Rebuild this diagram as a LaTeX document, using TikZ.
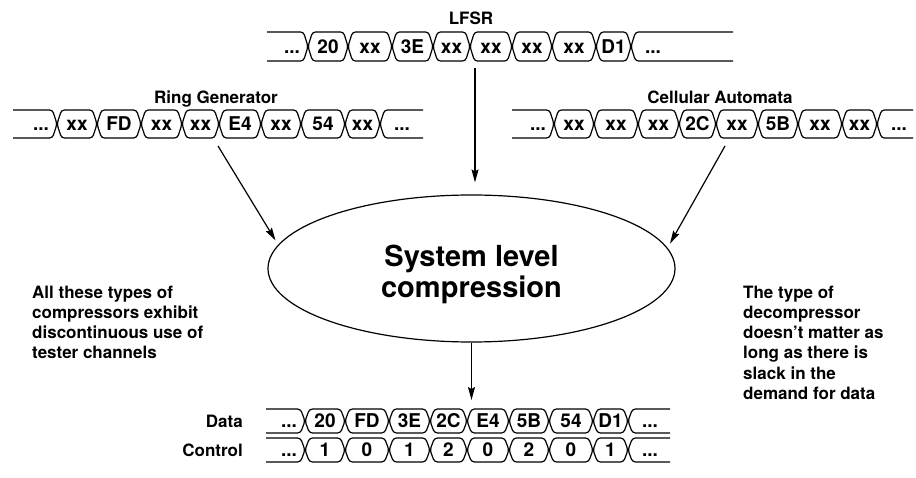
\documentclass[tikz,border=0pt]{standalone}
\usepackage{fontspec}
\setmainfont{TeX Gyre Heros}
\usetikzlibrary{arrows.meta, positioning, shapes.geometric}

\newcommand{\notefont}{\fontsize{17}{20.3}\selectfont\bfseries}
\newcommand{\cellfont}{\fontsize{19}{21}\selectfont\bfseries}
\newcommand{\bigfont}{\fontsize{29}{31}\selectfont\bfseries}

% transitions shared by all the buses (each bus is shifted)
\def\tgrid{{305,345,389,430,467,509,549,593,628}}
\def\bw{4.5}

\tikzset{
  bus/.style={line width=1.2pt, rounded corners=3pt},
  cell/.style={font=\cellfont, inner sep=0pt, anchor=base},
  title/.style={font=\notefont, inner sep=0pt},
  note/.style={font=\notefont, align=left, anchor=north west, inner sep=0pt},
  flow/.style={-{Stealth[length=13pt, width=7pt, inset=2pt]}, line width=1.2pt},
}

% #1 name, #2 top, #3 bottom, #4 left end, #5 right end, #6 labels of the eight cells
\newcommand{\drawbus}[6]{%
  \pgfmathsetmacro{\bmid}{(#2+#3)/2}
  \pgfmathsetmacro{\tbase}{\bmid+6.8}
  \draw[bus] (#4,#2) -- (305-\bw,#2) -- (305,\bmid) -- (305-\bw,#3) -- (#4,#3);
  \node[cell] (#1-0) at (289,\tbase) {...};
  \foreach \txt [count=\i] in {#6}{
    \pgfmathsetmacro{\cl}{\tgrid[\i-1]}
    \pgfmathsetmacro{\cr}{\tgrid[\i]}
    \draw[bus] (\cl+\bw,#2) -- (\cr-\bw,#2) -- (\cr,\bmid) -- (\cr-\bw,#3)
      -- (\cl+\bw,#3) -- (\cl,\bmid) -- cycle;
    \node[cell] (#1-\i) at ({(\cl+\cr)/2},\tbase) {\txt};
  }
  \draw[bus] (#5,#2) -- (628+\bw,#2) -- (628,\bmid) -- (628+\bw,#3) -- (#5,#3);
  \node[cell] (#1-9) at (650,\tbase) {...};
}

\begin{document}
\begin{tikzpicture}[x=1pt, y=-1pt]
  \useasboundingbox (0,0) rectangle (916,478);

  % Source buses
  \node[title, anchor=base] (lfsr) at (471,25) {LFSR};
  \begin{scope}[shift={(3,0)}]
    \drawbus{lfsr}{32}{61}{264}{730}{20,xx,3E,xx,xx,xx,xx,D1}
  \end{scope}
  \node[title, anchor=base] (ring) at (216,104) {Ring Generator};
  \begin{scope}[shift={(-248,0)}]
    \drawbus{ring}{110}{138}{261}{671}{xx,FD,xx,xx,E4,xx,54,xx}
  \end{scope}
  \node[title, anchor=base] (ca) at (720,104) {Cellular Automata};
  \begin{scope}[shift={(249,0)}]
    \drawbus{ca}{110}{138}{263}{664}{xx,xx,xx,2C,xx,5B,xx,xx}
  \end{scope}

  % Compression
  \node[draw, ellipse, line width=1.2pt, minimum width=407pt, minimum height=147pt,
    inner sep=0pt] (sys) at (471.5,268.5) {};
  \node[font=\bigfont, align=center, inner sep=0pt] (systext) at (471.5,274)
    {System level\\compression};

  % Output buses
  \node[title, anchor=base east] (data) at (243,427) {Data};
  \drawbus{data}{409}{433}{266}{670}{20,FD,3E,2C,E4,5B,54,D1}
  \node[title, anchor=base east] (ctrl) at (243,456) {Control};
  \drawbus{ctrl}{438}{462}{266}{670}{1,0,1,2,0,2,0,1}

  % Arrows
  \coordinate (lfsr-out) at (475,68);
  \coordinate (ring-out) at (218,146);
  \coordinate (ca-out) at (725,146);
  \coordinate (data-in) at (471.5,400);
  \draw[flow, shorten >=12pt] (lfsr-out) -- (lfsr-out |- sys.north);
  \draw[flow, shorten >=5pt] (ring-out) -- (sys.173.5);
  \draw[flow, shorten >=5pt] (ca-out) -- (sys.6.5);
  \draw[flow] (sys.south) -- (data-in);

  % Notes
  \node[note] (leftnote) at (32,285.5)
    {All these types of\\compressors exhibit\\discontinuous use of\\tester channels};
  \node[note] (rightnote) at (743,285.5)
    {The type of\\decompressor\\doesn't matter as\\long as there is\\slack in the\\demand for data};
\end{tikzpicture}
\end{document}
